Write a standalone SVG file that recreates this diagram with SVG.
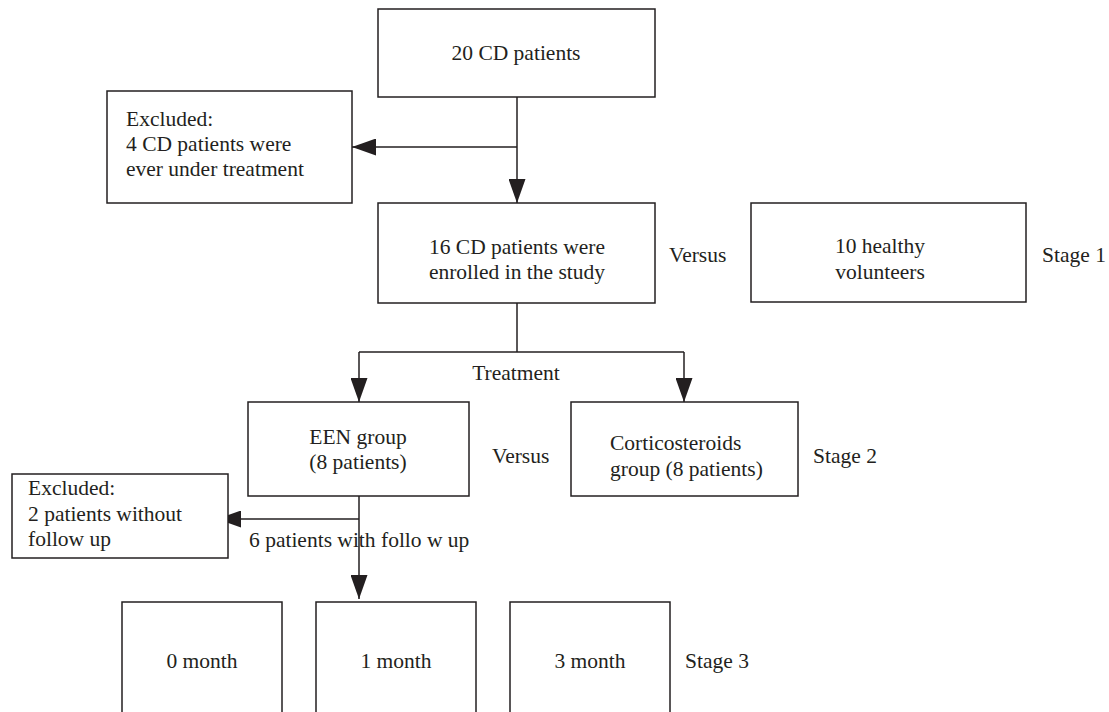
<svg xmlns="http://www.w3.org/2000/svg" width="1109" height="712" viewBox="0 0 1109 712">
<style>
.box{fill:#fff;stroke:#231f20;stroke-width:1.5}
.t{font-family:"Liberation Serif","Times New Roman","DejaVu Serif",serif;font-size:21.5px;fill:#231f20}
.c{text-anchor:middle}
.ln{stroke:#231f20;stroke-width:1.5;fill:none}
</style>
<defs>
<marker id="ah" markerUnits="userSpaceOnUse" markerWidth="24" markerHeight="17" refX="24" refY="8.5" orient="auto">
<path d="M0,0 L24,8.5 L0,17 Z" fill="#231f20"/>
</marker>
</defs>
<rect width="1109" height="712" fill="#fff"/>
<g id="connectors">
<line class="ln" x1="517" y1="97" x2="517" y2="203" marker-end="url(#ah)"/>
<line class="ln" x1="517" y1="147" x2="352" y2="147" marker-end="url(#ah)"/>
<line class="ln" x1="517" y1="303" x2="517" y2="352"/>
<line class="ln" x1="359" y1="352" x2="684" y2="352"/>
<line class="ln" x1="359" y1="352" x2="359" y2="402" marker-end="url(#ah)"/>
<line class="ln" x1="684" y1="352" x2="684" y2="402" marker-end="url(#ah)"/>
<line class="ln" x1="359" y1="496" x2="359" y2="599" marker-end="url(#ah)"/>
<line class="ln" x1="359" y1="519" x2="217" y2="519" marker-end="url(#ah)"/>
<text class="t c" x="516" y="380">Treatment</text>
<text class="t" x="249" y="547">6 patients with follo w up</text>
</g>
<g id="n-top">
<rect class="box" x="378" y="9" width="277" height="88"/>
<text class="t c" x="516" y="60">20 CD patients</text>
</g>
<g id="n-excl1">
<rect class="box" x="107" y="91" width="245" height="112"/>
<text class="t" x="126" y="126">Excluded:</text>
<text class="t" x="126" y="151">4 CD patients were</text>
<text class="t" x="126" y="176">ever under treatment</text>
</g>
<g id="n-enrolled">
<rect class="box" x="378" y="203" width="277" height="100"/>
<text class="t c" x="517" y="254">16 CD patients were</text>
<text class="t c" x="517" y="279">enrolled in the study</text>
</g>
<text class="t" x="669" y="262">Versus</text>
<g id="n-healthy">
<rect class="box" x="751" y="203" width="275" height="99"/>
<text class="t c" x="880" y="253">10 healthy</text>
<text class="t c" x="880" y="279">volunteers</text>
</g>
<text class="t" x="1042" y="262">Stage 1</text>
<g id="n-een">
<rect class="box" x="248" y="402" width="221" height="94"/>
<text class="t c" x="358" y="444">EEN group</text>
<text class="t c" x="358" y="469">(8 patients)</text>
</g>
<text class="t" x="492" y="463">Versus</text>
<g id="n-cortico">
<rect class="box" x="571" y="402" width="227" height="94"/>
<text class="t" x="610" y="450">Corticosteroids</text>
<text class="t" x="610" y="476">group (8 patients)</text>
</g>
<text class="t" x="813" y="463">Stage 2</text>
<g id="n-excl2">
<rect class="box" x="12" y="474" width="216" height="84"/>
<text class="t" x="28" y="495">Excluded:</text>
<text class="t" x="28" y="521">2 patients without</text>
<text class="t" x="28" y="546">follow up</text>
</g>
<g id="n-m0">
<rect class="box" x="122" y="602" width="160" height="130"/>
<text class="t c" x="202" y="668">0 month</text>
</g>
<g id="n-m1">
<rect class="box" x="316" y="602" width="160" height="130"/>
<text class="t c" x="396" y="668">1 month</text>
</g>
<g id="n-m3">
<rect class="box" x="510" y="602" width="160" height="130"/>
<text class="t c" x="590" y="668">3 month</text>
</g>
<text class="t" x="685" y="668">Stage 3</text>
</svg>
